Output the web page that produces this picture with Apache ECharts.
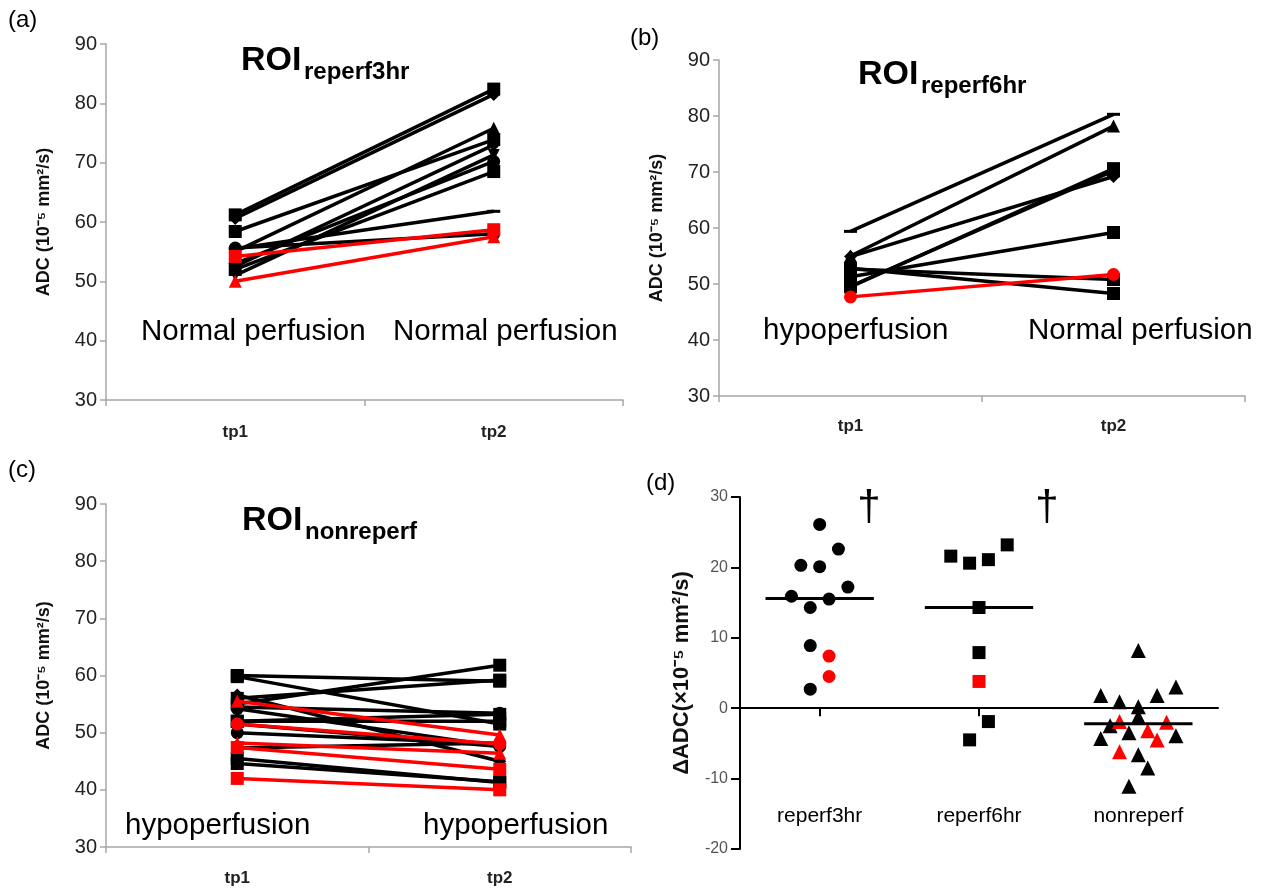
<!DOCTYPE html>
<html><head><meta charset="utf-8">
<script src="https://cdn.jsdelivr.net/npm/echarts@6/dist/echarts.min.js"></script>
<style>html,body{margin:0;padding:0;background:#fff}#c{width:1271px;height:891px}</style>
</head><body><div id="c"></div>
<script>
const FONT = 'Liberation Sans, Arial, Helvetica, sans-serif';

// ---------- DATA ----------
const timepoints = ['tp1', 'tp2'];

// (a) ROI reperf3hr
const reperf3hrTp1 = [61.2, 60.6, 58.4, 55.0, 52.5, 51.0, 53.0, 52.0, 55.5, 55.6, 54.2, 50.0];
const reperf3hrTp2 = [82.4, 81.5, 73.9, 75.8, 73.0, 71.3, 70.2, 68.5, 61.8, 58.0, 58.7, 57.5];
const reperf3hrRed = [10, 11];

// (b) ROI reperf6hr
const reperf6hrTp1 = [59.4, 55.0, 54.9, 49.5, 49.6, 51.3, 52.7, 52.8, 47.7];
const reperf6hrTp2 = [80.3, 78.2, 69.2, 70.6, 70.2, 59.2, 50.8, 48.3, 51.7];
const reperf6hrRed = [8];

// (c) ROI nonreperf
const nonreperfTp1 = [60.0, 59.8, 55.0, 56.0, 56.6, 54.5, 52.0, 52.0, 50.0, 47.3, 51.5, 44.6, 45.5, 54.2, 55.5, 51.5, 48.2, 47.4, 42.0];
const nonreperfTp2 = [59.0, 51.5, 61.8, 59.2, 45.0, 53.4, 53.2, 52.0, 48.0, 48.2, 47.6, 41.4, 41.3, 47.6, 49.6, 48.0, 46.4, 43.6, 40.0];
const nonreperfRed = [14, 15, 16, 17, 18];

// (d) delta ADC
const groups = ['reperf3hr', 'reperf6hr', 'nonreperf'];
const delta3hr = [26.1, 22.6, 20.3, 20.1, 17.2, 15.9, 15.5, 14.3, 8.9, 2.7, 7.4, 4.5];
const delta3hrSlot = [0, 2, -2, 0, 3, -3, 1, -1, -1, -1, 1, 1];
const delta3hrRed = [10, 11];
const delta6hr = [21.6, 20.6, 21.1, 23.2, 14.3, 7.9, -1.9, -4.5, 3.8];
const delta6hrSlot = [-3, -1, 1, 3, 0, 0, 1, -1, 0];
const delta6hrRed = [8];
const deltaNon = [8.2, 1.8, 3.0, 0.9, 1.8, 0.2, -1.2, -2.5, -3.5, -4.3, -3.9, -6.6, -8.5, -11.1, -1.9, -2.0, -3.2, -4.5, -6.2];
const deltaNonSlot = [0, -4, 4, -2, 2, 0, 0, -3, -1, -4, 4, 0, 1, -1, -2, 3, 1, 2, -2];
const deltaNonRed = [14, 15, 16, 17, 18];
const medians = [15.6, 14.3, -2.2];

// ---------- STYLES ----------
const symA = ['rect', 'diamond', 'rect', 'triangle', 'diamond', 'down', 'circle', 'rect', 'dash', 'circle', 'rect', 'triangle'];
const symB = ['dash', 'triangle', 'diamond', 'rect', 'rect', 'rect', 'rect', 'rect', 'circle'];
const symC = ['rect', 'rect', 'rect', 'rect', 'diamond', 'circle', 'rect', 'rect', 'circle', 'diamond', 'diamond', 'rect', 'rect', 'circle', 'triangle', 'circle', 'triangle', 'rect', 'rect'];
const RED = '#ff0000', BLACK = '#000000';
const SLOT = 0.059, HALF = 0.34;

function symbolOpts(name) {
  if (name === 'dash') return { symbol: 'rect', symbolSize: [13, 3] };
  if (name === 'down') return { symbol: 'triangle', symbolSize: 12, symbolRotate: 180 };
  return { symbol: name, symbolSize: 13 };
}

const series = [];
function addPairs(idx, tp1, tp2, red, syms) {
  const order = tp1.map((_, i) => i).sort((p, q) => (red.includes(p) ? 1 : 0) - (red.includes(q) ? 1 : 0));
  order.forEach(i => {
    const c = red.includes(i) ? RED : BLACK;
    const s = symbolOpts(syms[i]);
    series.push(Object.assign({
      type: 'line', xAxisIndex: idx, yAxisIndex: idx,
      data: [tp1[i], tp2[i]],
      lineStyle: { color: c, width: 3.5 },
      itemStyle: { color: c, opacity: 1 },
      silent: true, animation: false, z: red.includes(i) ? 3 : 2
    }, s));
  });
}
addPairs(0, reperf3hrTp1, reperf3hrTp2, reperf3hrRed, symA);
addPairs(1, reperf6hrTp1, reperf6hrTp2, reperf6hrRed, symB);
addPairs(2, nonreperfTp1, nonreperfTp2, nonreperfRed, symC);

function addScatter(gi, vals, slots, red, symbol, size) {
  const blk = [], rd = [];
  vals.forEach((v, i) => {
    const pt = [gi + 1 + slots[i] * SLOT, v];
    (red.includes(i) ? rd : blk).push(pt);
  });
  [[blk, BLACK], [rd, RED]].forEach(([d, c]) => {
    series.push({ type: 'scatter', xAxisIndex: 4, yAxisIndex: 3, data: d, symbol, symbolSize: size,
      itemStyle: { color: c, opacity: 1 }, silent: true, animation: false, z: 4 });
  });
}
addScatter(0, delta3hr, delta3hrSlot, delta3hrRed, 'circle', 13);
addScatter(1, delta6hr, delta6hrSlot, delta6hrRed, 'rect', 13);
addScatter(2, deltaNon, deltaNonSlot, deltaNonRed, 'triangle', 15);
medians.forEach((m, gi) => {
  series.push({ type: 'line', xAxisIndex: 4, yAxisIndex: 3, symbol: 'none', silent: true, animation: false,
    data: [[gi + 1 - HALF, m], [gi + 1 + HALF, m]], lineStyle: { color: BLACK, width: 3 }, z: 5 });
});

const grids = [
  { left: 106, top: 44, width: 517, height: 356, outerBoundsMode: 'none', containLabel: false },
  { left: 719, top: 60, width: 526, height: 336, outerBoundsMode: 'none', containLabel: false },
  { left: 106, top: 504, width: 525, height: 343, outerBoundsMode: 'none', containLabel: false },
  { left: 740, top: 497, width: 478, height: 352, outerBoundsMode: 'none', containLabel: false }
];
const yNameABC = 'ADC (10⁻⁵ mm²/s)';
function catAxis(gi, margin) {
  return {
    type: 'category', gridIndex: gi, data: timepoints, boundaryGap: true,
    axisLine: { lineStyle: { color: '#a6a6a6', width: 1.5 } },
    axisTick: { show: true, length: 6, lineStyle: { color: '#a6a6a6', width: 1.5 } },
    axisLabel: { margin, fontFamily: FONT, fontSize: 17, fontWeight: 'bold', color: '#222' }
  };
}
function valAxis(gi, gap) {
  return {
    type: 'value', gridIndex: gi, min: 30, max: 90, interval: 10,
    name: yNameABC, nameLocation: 'middle', nameGap: gap, nameRotate: 90,
    nameTextStyle: { fontFamily: FONT, fontSize: 18, fontWeight: 'bold', color: '#111' },
    splitLine: { show: false },
    axisLine: { show: true, lineStyle: { color: '#a6a6a6', width: 1.5 } },
    axisTick: { show: true, length: 6, lineStyle: { color: '#a6a6a6', width: 1.5 } },
    axisLabel: { margin: 9, fontFamily: FONT, fontSize: 20, color: '#222' }
  };
}

const txt = (x, y, text, size, weight, align) => ({
  type: 'text', x, y, silent: true,
  style: { text, fontFamily: FONT, fontSize: size, fontWeight: weight || 'normal', fill: '#000',
    align: align || 'left', verticalAlign: 'middle' }
});

const graphic = [
  txt(8, 20, '(a)', 24), txt(630, 38, '(b)', 24), txt(8, 470, '(c)', 24), txt(646, 483, '(d)', 24),
  txt(241, 61, 'ROI', 34, 'bold'), txt(304, 72, 'reperf3hr', 24, 'bold'),
  txt(858, 75, 'ROI', 34, 'bold'), txt(921, 86, 'reperf6hr', 24, 'bold'),
  txt(242, 521, 'ROI', 34, 'bold'), txt(305, 532, 'nonreperf', 24, 'bold'),
  txt(141, 332, 'Normal perfusion', 29.5), txt(393, 332, 'Normal perfusion', 29.5),
  txt(763, 331, 'hypoperfusion', 29.5), txt(1028, 331, 'Normal perfusion', 29.5),
  txt(125, 826, 'hypoperfusion', 29.5), txt(423, 826, 'hypoperfusion', 29.5),
  txt(869, 508, '†', 42, 'normal', 'center'), txt(1047, 508, '†', 42, 'normal', 'center')
];

const option = {
  backgroundColor: '#ffffff',
  animation: false,
  grid: grids,
  xAxis: [
    catAxis(0, 24), catAxis(1, 22), catAxis(2, 23),
    {
      type: 'category', gridIndex: 3, data: groups, boundaryGap: true,
      axisLine: { onZero: true, lineStyle: { color: '#000', width: 2 } },
      axisTick: { show: true, alignWithLabel: true, length: 8, lineStyle: { color: '#000', width: 2 } },
      axisLabel: { show: false }
    },
    { type: 'value', gridIndex: 3, min: 0.5, max: 3.5, show: false },
    {
      type: 'category', gridIndex: 3, data: groups, boundaryGap: true, position: 'bottom',
      axisLine: { show: false, onZero: false }, axisTick: { show: false },
      axisLabel: { margin: -43, fontFamily: FONT, fontSize: 21, color: '#000' }
    }
  ],
  yAxis: [
    valAxis(0, 53), valAxis(1, 53), valAxis(2, 53),
    {
      type: 'value', gridIndex: 3, min: -20, max: 30, interval: 10,
      name: 'ΔADC(×10⁻⁵ mm²/s)', nameLocation: 'middle', nameGap: 47, nameRotate: 90,
      nameTextStyle: { fontFamily: FONT, fontSize: 22, fontWeight: 'bold', color: '#111' },
      splitLine: { show: false },
      axisLine: { show: true, lineStyle: { color: '#000', width: 2 } },
      axisTick: { show: true, length: 9, lineStyle: { color: '#000', width: 2 } },
      axisLabel: { margin: 12, fontFamily: FONT, fontSize: 16, color: '#555' }
    }
  ],
  graphic,
  series
};
const chart = echarts.init(document.getElementById('c'), null, { renderer: 'canvas' });
chart.setOption(option);
</script></body></html>
